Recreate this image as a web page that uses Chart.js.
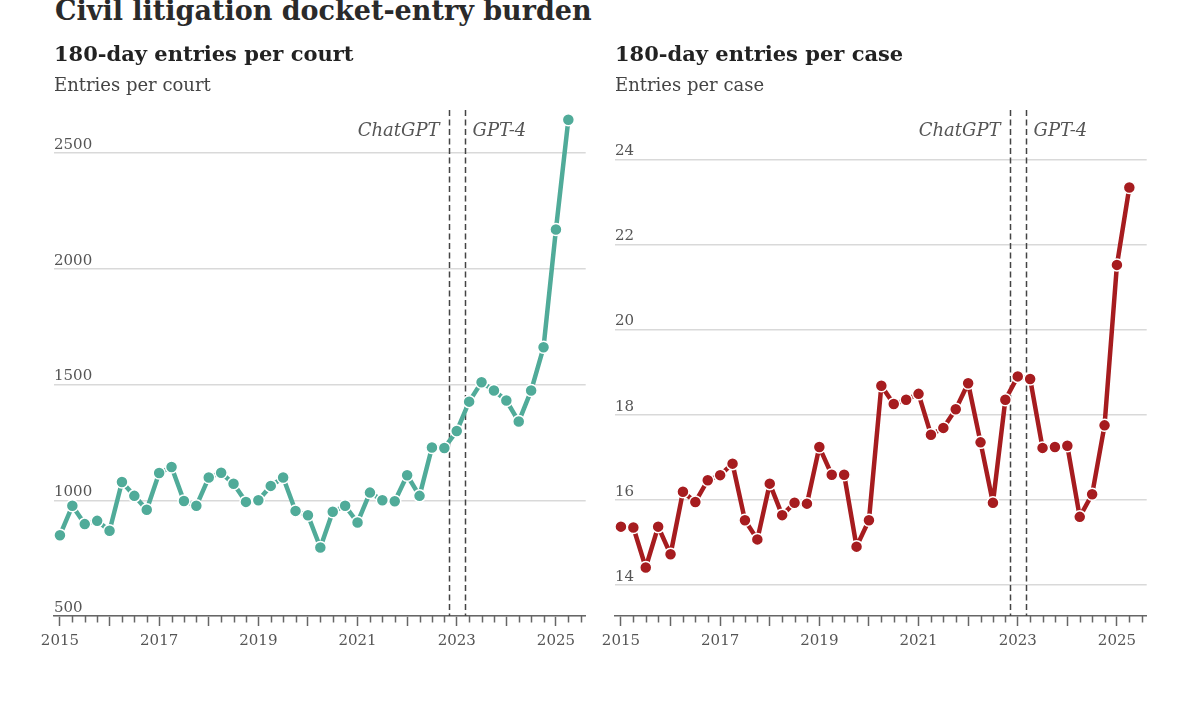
<!DOCTYPE html>
<html>
<head>
<meta charset="utf-8">
<script src="https://cdn.jsdelivr.net/npm/chart.js@4/dist/chart.umd.min.js"></script>
<style>
  body { margin: 0; background: #fff; width: 1200px; height: 704px; overflow: hidden; position: relative; }
  #title { position: absolute; left: 55px; top: -4px; font: bold 27px 'DejaVu Serif', serif; color: #2a2a2a; line-height: 30px; white-space: nowrap; }
  canvas { position: absolute; top: 30px; }
  #court { left: 0; }
  #case { left: 561px; }
</style>
</head>
<body>
<div id="title">Civil litigation docket-entry burden</div>
<canvas id="court" width="600" height="674"></canvas>
<canvas id="case" width="600" height="674"></canvas>
<script>
// quarterly observations
const quarters = [
  '2015Q1', '2015Q2', '2015Q3', '2015Q4', '2016Q1', '2016Q2', '2016Q3', '2016Q4',
  '2017Q1', '2017Q2', '2017Q3', '2017Q4', '2018Q1', '2018Q2', '2018Q3', '2018Q4',
  '2019Q1', '2019Q2', '2019Q3', '2019Q4', '2020Q1', '2020Q2', '2020Q3', '2020Q4',
  '2021Q1', '2021Q2', '2021Q3', '2021Q4', '2022Q1', '2022Q2', '2022Q3', '2022Q4',
  '2023Q1', '2023Q2', '2023Q3', '2023Q4', '2024Q1', '2024Q2', '2024Q3', '2024Q4',
  '2025Q1', '2025Q2',
];
const entriesPerCourt = [
  849, 976, 897, 911, 868, 1079, 1019, 959, 1118, 1144,
  997, 976, 1098, 1119, 1071, 993, 1000, 1062, 1098, 954,
  935, 796, 950, 976, 904, 1033, 1000, 996, 1108, 1019,
  1228, 1226, 1299, 1426, 1510, 1474, 1431, 1340, 1474, 1661,
  2170, 2644,
];
const entriesPerCase = [
  15.37, 15.35, 14.41, 15.37, 14.72, 16.19, 15.95, 16.46, 16.58, 16.85,
  15.52, 15.07, 16.38, 15.64, 15.93, 15.91, 17.24, 16.59, 16.59, 14.90,
  15.52, 18.68, 18.25, 18.35, 18.49, 17.53, 17.69, 18.13, 18.74, 17.35,
  15.93, 18.35, 18.90, 18.84, 17.22, 17.24, 17.27, 15.60, 16.13, 17.75,
  21.52, 23.34,
];
const courtTicks = [500, 1000, 1500, 2000, 2500];
const caseTicks = [14, 16, 18, 20, 22, 24];
const yearLabels = [2015, 2017, 2019, 2021, 2023, 2025];
const releases = [
  { x: 2022.85, label: 'ChatGPT', side: 'left' },
  { x: 2023.16, label: 'GPT-4', side: 'right' },
];

const serif = "'DejaVu Serif', serif";

function qToYear(q) {
  return Number(q.slice(0, 4)) + (Number(q.slice(5)) - 1) / 4;
}

function isYear(v) {
  return Math.abs(v - Math.round(v)) < 1e-6;
}

const releaseLines = {
  id: 'releaseLines',
  beforeDatasetsDraw(chart) {
    const { ctx, chartArea } = chart;
    const xs = chart.scales.x;
    ctx.save();
    ctx.strokeStyle = '#444';
    ctx.lineWidth = 1.5;
    ctx.setLineDash([6, 3.5]);
    ctx.font = 'italic 18px ' + serif;
    ctx.fillStyle = '#555';
    ctx.textBaseline = 'middle';
    releases.forEach((r) => {
      const px = Math.round(xs.getPixelForValue(r.x)) + 0.5;
      ctx.beginPath();
      ctx.moveTo(px, chartArea.top);
      ctx.lineTo(px, chartArea.bottom);
      ctx.stroke();
      if (r.side === 'left') {
        ctx.textAlign = 'right';
        ctx.fillText(r.label, px - 10, chartArea.top + 21);
      } else {
        ctx.textAlign = 'left';
        ctx.fillText(r.label, px + 7, chartArea.top + 21);
      }
    });
    ctx.restore();
  },
  afterDraw(chart) {
    // shorter quarter ticks
    const { ctx, chartArea } = chart;
    const xs = chart.scales.x;
    ctx.save();
    ctx.strokeStyle = '#666';
    ctx.lineWidth = 1.5;
    xs.ticks.forEach((t, i) => {
      if (isYear(t.value)) return;
      const px = Math.round(xs.getPixelForTick(i)) + 0.5;
      ctx.beginPath();
      ctx.moveTo(px, chartArea.bottom);
      ctx.lineTo(px, chartArea.bottom + 6.5);
      ctx.stroke();
    });
    ctx.restore();
  },
};

function makeChart(id, title, subtitle, values, color, yMin, yMax, yTicks) {
  return new Chart(document.getElementById(id), {
    type: 'line',
    data: {
      datasets: [
        {
          data: quarters.map((q, i) => ({ x: qToYear(q), y: values[i] })),
          borderColor: color,
          backgroundColor: color,
          borderWidth: 4.5,
          borderJoinStyle: 'round',
          borderCapStyle: 'round',
          pointRadius: 6,
          pointBorderColor: '#fff',
          pointBorderWidth: 1.5,
          pointBackgroundColor: color,
          tension: 0,
        },
      ],
    },
    options: {
      responsive: false,
      animation: false,
      devicePixelRatio: 1,
      layout: { padding: { left: 54, right: 14.3, top: 0, bottom: 48 } },
      plugins: {
        legend: { display: false },
        tooltip: { enabled: false },
        title: {
          display: true,
          text: title,
          align: 'start',
          color: '#222',
          font: { family: serif, size: 21, weight: 'bold' },
          padding: { top: 13.4, bottom: 5 },
        },
        subtitle: {
          display: true,
          text: subtitle,
          align: 'start',
          color: '#444',
          font: { family: serif, size: 18 },
          padding: { top: 2.1, bottom: 12.7 },
        },
      },
      scales: {
        x: {
          type: 'linear',
          min: 2014.88,
          max: 2025.6,
          border: { display: true, color: '#666', width: 1.5 },
          grid: {
            drawOnChartArea: false,
            drawTicks: true,
            tickLength: 10,
            tickWidth: 1.5,
            tickColor: (c) => (c.tick && isYear(c.tick.value) ? '#666' : 'rgba(0,0,0,0)'),
          },
          ticks: {
            stepSize: 0.25,
            includeBounds: false,
            autoSkip: false,
            maxRotation: 0,
            padding: 6,
            color: '#555',
            font: { family: serif, size: 15 },
            callback: (v) => (yearLabels.includes(Math.round(v)) && isYear(v) ? String(Math.round(v)) : ''),
          },
        },
        y: {
          min: yMin,
          max: yMax,
          afterBuildTicks: (axis) => {
            axis.ticks = yTicks.map((v) => ({ value: v }));
          },
          border: { display: false },
          grid: { color: '#d9d9d9', lineWidth: 1.5, drawTicks: false },
          ticks: {
            mirror: true,
            padding: 0,
            labelOffset: -8,
            color: '#555',
            font: { family: serif, size: 15 },
            callback: (v) => String(v),
          },
        },
      },
    },
    plugins: [releaseLines],
  });
}

makeChart('court', '180-day entries per court', 'Entries per court', entriesPerCourt, '#50ab99', 500, 2686, courtTicks);
makeChart('case', '180-day entries per case', 'Entries per case', entriesPerCase, '#a61c1f', 13.27, 25.16, caseTicks);
</script>
</body>
</html>
